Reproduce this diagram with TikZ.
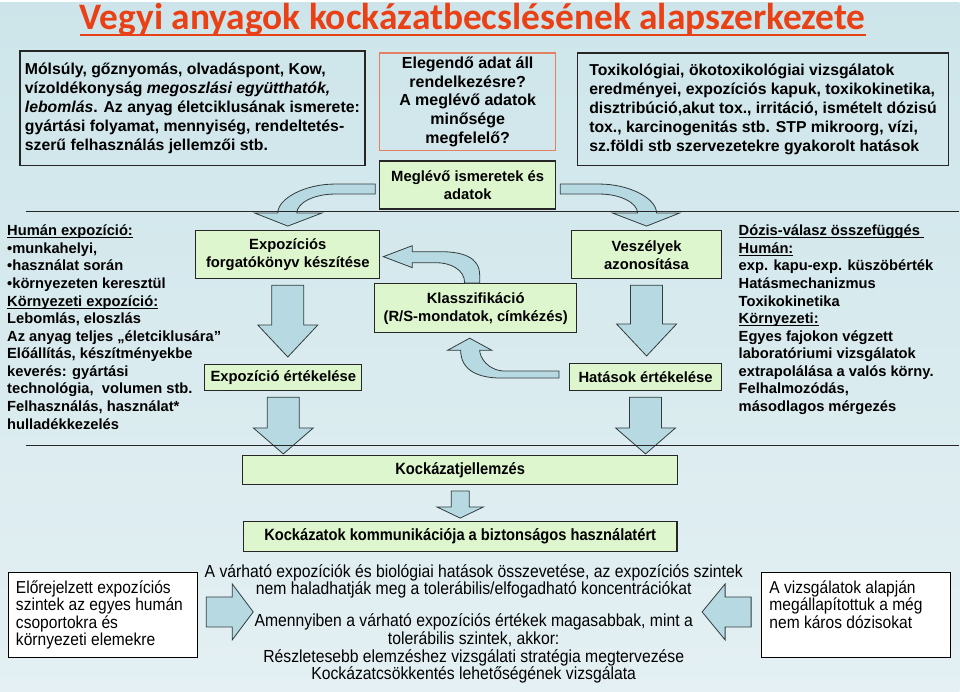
\documentclass[tikz,border=0pt]{standalone}
\usepackage{fontspec}
\setmainfont{Liberation Sans}
\newfontfamily\titlefont{Carlito}
\newfontfamily\narrowfont[FakeStretch=0.9]{Liberation Sans}
\usetikzlibrary{positioning,calc}
\definecolor{bgtop}{RGB}{205,229,234}
\definecolor{bgbot}{RGB}{228,240,243}
\definecolor{boxline}{RGB}{38,38,38}
\definecolor{boxgreen}{RGB}{221,246,205}
\definecolor{orangeline}{RGB}{226,128,100}
\definecolor{arrowfill}{RGB}{183,218,226}
\definecolor{arrowline}{RGB}{50,60,62}
\definecolor{titlered}{RGB}{234,64,22}
\newcommand\hdul[2][1.1pt]{\setbox0=\hbox{#2}\leavevmode\rlap{\rule[-0.18em]{\wd0}{#1}}\box0}
\newcommand\blockdown[6]{%
  \draw[blockarrow] let \p1=(#1.south), \p2=(#2.north) in
    (\x1-#3,\y1-6pt) -- (\x1+#3,\y1-6pt) -- (\x1+#3,\y2+#6+#5) -- (\x1+#4,\y2+#6+#5)
    -- (\x1,\y2+#6) -- (\x1-#4,\y2+#6+#5) -- (\x1-#3,\y2+#6+#5) -- cycle;}

\begin{document}
\begin{tikzpicture}[x=1pt,y=-1pt,
  every node/.style={font=\bfseries\fontsize{14.8}{18}\selectfont},
  infobox/.style={draw=boxline, line width=1.5pt, align=left, inner sep=0pt,
                  font=\bfseries\fontsize{15.8}{19}\selectfont},
  greenbox/.style={draw=boxline, line width=1.2pt, fill=boxgreen, align=center, inner sep=0pt},
  plainbox/.style={draw=black, line width=0.8pt, fill=white, inner sep=8pt,
                   font=\narrowfont\fontsize{17.3}{17.5}\selectfont},
  blockarrow/.style={draw=arrowline, line width=0.8pt, fill=arrowfill},
  sep/.style={draw=boxline, line width=1.3pt},
  notes/.style={align=left, inner sep=0pt, anchor=north west,
                font=\bfseries\fontsize{14.7}{17.6}\selectfont}]
\fill[top color=bgtop, bottom color=bgbot] (0,0) rectangle (960,689);
\node[font=\titlefont\bfseries\fontsize{37.4}{40}\selectfont, text=titlered] (title) at (473,17)
  {\hdul[2.6pt]{Vegyi anyagok kockázatbecslésének alapszerkezete}};
\node[infobox, minimum width=345pt, minimum height=115pt] (props) at (192.5,105.5)
  {Mólsúly, gőznyomás, olvadáspont, Kow,\\ vízoldékonyság \textit{megoszlási együtthatók,}\\
   \textit{lebomlás}. Az anyag életciklusának ismerete:\\ gyártási folyamat, mennyiség, rendeltetés-\\
   szerű felhasználás jellemzői stb.};
\node[infobox, draw=orangeline, align=center, minimum width=176pt, minimum height=98pt,
  font=\bfseries\fontsize{16}{18.7}\selectfont] (question) at (468,99)
  {Elegendő adat áll\\ rendelkezésre?\\ A meglévő adatok\\ minősége\\ megfelelő?};
\node[greenbox, minimum width=176pt, minimum height=48pt, below=9pt of question] (known)
  {Meglévő ismeretek és\\ adatok};
\node[infobox, minimum width=371pt, minimum height=113pt] (tox) at (763.5,106.5)
  {Toxikológiai, ökotoxikológiai vizsgálatok\\ eredményei, expozíciós kapuk, toxikokinetika,\\
   disztribúció,akut tox., irritáció, ismételt dózisú\\ tox., karcinogenitás stb. STP mikroorg, vízi,\\
   sz.földi stb szervezetekre gyakorolt hatások};
\node[greenbox, minimum width=184pt, minimum height=48pt] (scenario) at (288,252)
  {Expozíciós\\ forgatókönyv készítése};
\node[greenbox, minimum width=157pt, minimum height=26pt] (exposure) at (283.5,375) {Expozíció értékelése};
\node[greenbox, minimum width=202pt, minimum height=49pt] (classify) at (476,305.5)
  {Klasszifikáció\\ (R/S-mondatok, címkézés)};
\node[greenbox, minimum width=150pt, minimum height=48pt] (hazard) at (647,252) {Veszélyek\\ azonosítása};
\node[greenbox, minimum width=152pt, minimum height=27pt] (effects) at (646,374.5) {Hatások értékelése};
\node[greenbox, minimum width=435pt, minimum height=29pt, font=\narrowfont\bfseries\fontsize{16.3}{18}\selectfont]
  (riskchar) at (460.5,467.5) {Kockázatjellemzés};
\node[greenbox, minimum width=434pt, minimum height=30pt, below=36pt of riskchar,
  font=\narrowfont\bfseries\fontsize{16.3}{18}\selectfont] (communicate)
  {Kockázatok kommunikációja a biztonságos használatért};
\node[notes] (exposnotes) at (7,222)
  {\hdul{Humán expozíció:}\\ •munkahelyi,\\ •használat során\\ •környezeten keresztül\\
   \hdul{Környezeti expozíció:}\\ Lebomlás, eloszlás\\ Az anyag teljes „életciklusára”\\
   Előállítás, készítményekbe\\ keverés: gyártási\\ technológia,\ \ volumen stb.\\
   Felhasználás, használat*\\ hulladékkezelés};
\node[notes, font=\bfseries\fontsize{14.7}{17.6}\selectfont] (effectnotes) at (739,222)
  {\hdul{Dózis-válasz összefüggés }\\ \hdul{Humán:}\\ exp. kapu-exp. küszöbérték\\ Hatásmechanizmus\\
   Toxikokinetika\\ \hdul{Környezeti:}\\ Egyes fajokon végzett\\ laboratóriumi vizsgálatok\\
   extrapolálása a valós körny.\\ Felhalmozódás,\\ másodlagos mérgezés};
\node[plainbox] (predicted) at (103,612.5)
  {\parbox[c][69pt][t]{174pt}{Előrejelzett expozíciós\\ szintek az egyes humán\\ csoportokra és\\ környezeti elemekre}};
\node[plainbox] (safe) at (856.5,612.5)
  {\parbox[c][69pt][t]{173pt}{A vizsgálatok alapján\\ megállapítottuk a még\\ nem káros dózisokat}};
\node[align=center, font=\narrowfont\fontsize{17.5}{17.7}\selectfont] (compare) at (474,621.5)
  {A várható expozíciók és biológiai hatások összevetése, az expozíciós szintek\\
   nem haladhatják meg a tolerábilis/elfogadható koncentrációkat\\[14.3pt]
   Amennyiben a várható expozíciós értékek magasabbak, mint a\\ tolerábilis szintek, akkor:\\
   Részletesebb elemzéshez vizsgálati stratégia megtervezése\\ Kockázatcsökkentés lehetőségének vizsgálata};
\draw[blockarrow] let \p1=(known.west), \p2=(scenario.north) in
  (\x1-4pt,\y1+1pt) -- (\x2+47pt,\y1+1pt)
  .. controls (\x2+18pt,\y1+1pt) and (\x2-10pt,\y1-13pt) .. (\x2-10pt,\y2+17pt)
  -- (\x2-33pt,\y2+17pt) -- (\x2,\y2+4pt) -- (\x2+34pt,\y2+17pt) -- (\x2+9pt,\y2+17pt)
  .. controls (\x2+9pt,\y1-18pt) and (\x2+26pt,\y1-9pt) .. (\x2+47pt,\y1-9pt)
  -- (\x1-4pt,\y1-9pt) -- cycle;
\draw[blockarrow] let \p1=(known.east), \p2=(hazard.north) in
  (\x1+4pt,\y1+1pt) -- (\x2-47pt,\y1+1pt)
  .. controls (\x2-18pt,\y1+1pt) and (\x2+10pt,\y1-13pt) .. (\x2+10pt,\y2+17pt)
  -- (\x2+33pt,\y2+17pt) -- (\x2,\y2+4pt) -- (\x2-34pt,\y2+17pt) -- (\x2-9pt,\y2+17pt)
  .. controls (\x2-9pt,\y1-18pt) and (\x2-26pt,\y1-9pt) .. (\x2-47pt,\y1-9pt)
  -- (\x1+4pt,\y1-9pt) -- cycle;
\draw[blockarrow] let \p1=(classify.north), \p2=(scenario.east) in
  (\x1+4pt,\y1) -- (\x1+4pt,\y1+8pt)
  .. controls (\x1+4pt,\y2-2pt) and (\x1-14pt,\y2+3pt) .. (\x1-36pt,\y2+3pt)
  -- (\x2+32pt,\y2+3pt) -- (\x2+32pt,\y2+9pt) -- (\x2+3pt,\y2-2pt) -- (\x2+32pt,\y2-13pt)
  -- (\x2+32pt,\y2-8pt) -- (\x1-40pt,\y2-8pt)
  .. controls (\x1-26pt,\y2-8pt) and (\x1-11pt,\y1+14pt) .. (\x1-11pt,\y1) -- cycle;
\draw[blockarrow] let \p1=(effects.west), \p2=(classify.south) in
  (\x1-10pt,\y1+6pt) -- (\x2+30pt,\y1+6pt)
  .. controls (\x2+12pt,\y1+6pt) and (\x2+4pt,\y2-24pt) .. (\x2+4pt,\y2-17pt)
  -- (\x2+16pt,\y2-17pt) -- (\x2-6pt,\y2-5pt) -- (\x2-28pt,\y2-17pt) -- (\x2-15pt,\y2-17pt)
  .. controls (\x2-15pt,\y2-37pt) and (\x2+2pt,\y1-1pt) .. (\x2+26pt,\y1-1pt)
  -- (\x1-10pt,\y1-1pt) -- cycle;
\blockdown{scenario}{exposure}{16pt}{30pt}{32pt}{7pt}
\blockdown{exposure}{riskchar}{16pt}{30pt}{26pt}{1pt}
\blockdown{hazard}{effects}{16pt}{30pt}{32pt}{7pt}
\blockdown{effects}{riskchar}{16pt}{30pt}{26pt}{1pt}
\blockdown{riskchar}{communicate}{9pt}{23pt}{11pt}{3pt}
\draw[blockarrow] let \p1=(predicted.east) in
  (\x1+8pt,\y1+18pt) -- (\x1+34pt,\y1+18pt) -- (\x1+34pt,\y1+31pt) -- (\x1+55pt,\y1+3pt)
  -- (\x1+34pt,\y1-25pt) -- (\x1+34pt,\y1-12pt) -- (\x1+8pt,\y1-12pt) -- cycle;
\draw[blockarrow] let \p1=(safe.west) in
  (\x1-10pt,\y1+18pt) -- (\x1-36pt,\y1+18pt) -- (\x1-36pt,\y1+31pt) -- (\x1-59pt,\y1+3pt)
  -- (\x1-36pt,\y1-25pt) -- (\x1-36pt,\y1-12pt) -- (\x1-10pt,\y1-12pt) -- cycle;
\draw[sep] (26,209) -- (960,209);
\draw[sep] (26,443) -- (960,443);
\end{tikzpicture}
\end{document}
